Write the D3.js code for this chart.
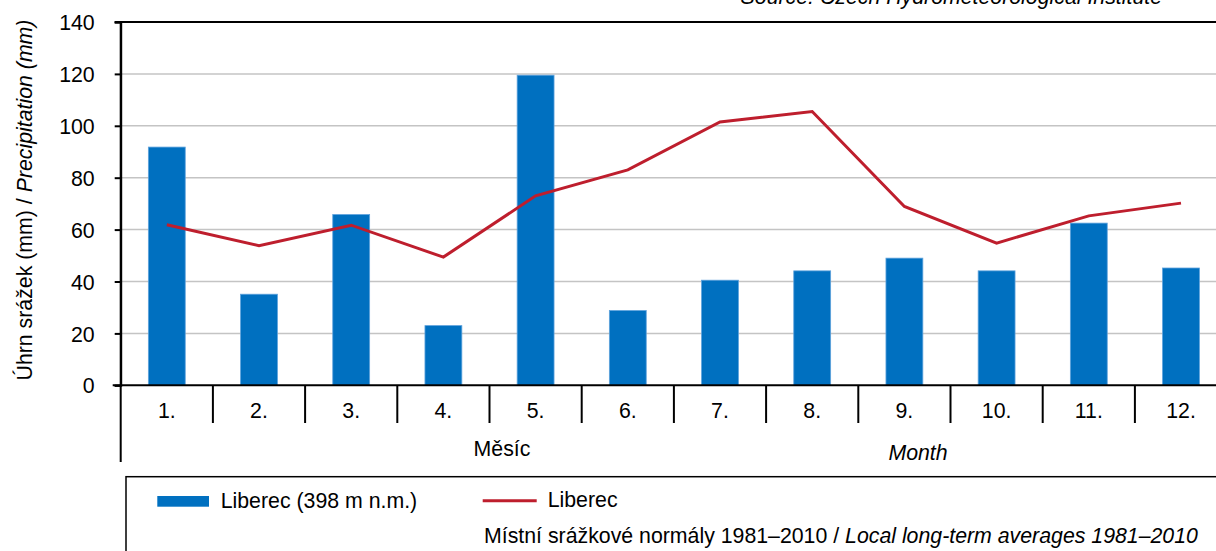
<!DOCTYPE html>
<html>
<head>
<meta charset="utf-8">
<script src="https://cdn.jsdelivr.net/npm/d3@7"></script>
<style>
  html, body { margin: 0; padding: 0; background: #fff; overflow: hidden; }
  svg { display: block; }
  text { font-family: "Liberation Sans", Arial, Helvetica, sans-serif; fill: #000; }
</style>
</head>
<body>
<svg id="chart" width="1216" height="551"></svg>
<script>
const months = ["1.", "2.", "3.", "4.", "5.", "6.", "7.", "8.", "9.", "10.", "11.", "12."];
const precip = [91.8, 35.1, 65.8, 23.0, 119.5, 28.8, 40.5, 44.1, 49.0, 44.1, 62.5, 45.2];
const normals = [61.9, 53.8, 61.7, 49.4, 73.0, 83.0, 101.5, 105.5, 68.9, 54.8, 65.3, 70.2];
const yTicks = [0, 20, 40, 60, 80, 100, 120, 140];

(function () {
const svg = d3.select("#chart");
const left = 120.7, step = 92.2;
const right = left + step * months.length;
const plotTop = 22, plotBottom = 385.3;
const FS = 21.3;

const x = d3.scaleBand().domain(months).range([left, right]).paddingInner(0.6).paddingOuter(0.3);
const xb = d3.scaleBand().domain(months).range([left, right]).padding(0);
const y = d3.scaleLinear().domain([0, 140]).range([plotBottom, plotTop]);

// source (cut off at top, as in the reference)
svg.append("text").attr("x", 1162).attr("y", 4).attr("text-anchor", "end")
  .attr("font-size", FS).attr("font-style", "italic")
  .text("Source: Czech Hydrometeorological Institute");

// gridlines
svg.append("g").selectAll("line").data(yTicks.filter(d => d > 0 && d < 140)).join("line")
  .attr("x1", left).attr("x2", 1216).attr("y1", d => y(d)).attr("y2", d => y(d))
  .attr("stroke", "#c4c4c4").attr("stroke-width", 1.5);

// top border
svg.append("line").attr("x1", left - 6).attr("x2", 1216).attr("y1", y(140)).attr("y2", y(140))
  .attr("stroke", "#000").attr("stroke-width", 2);

// y axis
const yAxis = d3.axisLeft(y).tickValues(yTicks).tickSize(6).tickPadding(20).tickFormat(d3.format("d"));
const gy = svg.append("g").attr("transform", `translate(${left},0)`).call(yAxis);
gy.select(".domain").attr("stroke", "#000").attr("stroke-width", 2);
gy.selectAll(".tick line").attr("stroke", "#000").attr("stroke-width", 2);
gy.selectAll(".tick text").attr("font-size", FS).attr("font-family", "Liberation Sans, Arial, sans-serif")
  .attr("dy", "0.36em").attr("fill", "#000");

// bars
svg.append("g").selectAll("rect").data(months).join("rect")
  .attr("x", d => x(d)).attr("width", x.bandwidth())
  .attr("y", (d, i) => y(precip[i])).attr("height", (d, i) => y(0) - y(precip[i]))
  .attr("fill", "#0070c0").attr("stroke", "#5ea2dc").attr("stroke-width", 0.8);

// x axis baseline
svg.append("line").attr("x1", left - 8).attr("x2", 1216).attr("y1", plotBottom).attr("y2", plotBottom)
  .attr("stroke", "#000").attr("stroke-width", 2);

// category separators
svg.append("g").selectAll("line").data(months.slice(1)).join("line")
  .attr("x1", d => xb(d)).attr("x2", d => xb(d)).attr("y1", plotBottom).attr("y2", 423)
  .attr("stroke", "#000").attr("stroke-width", 2);
svg.append("line").attr("x1", left).attr("x2", left).attr("y1", plotTop).attr("y2", 462)
  .attr("stroke", "#000").attr("stroke-width", 2);

// month labels
svg.append("g").selectAll("text").data(months).join("text")
  .attr("x", d => xb(d) + xb.bandwidth() / 2).attr("y", 418)
  .attr("text-anchor", "middle").attr("font-size", FS).text(d => d);

// line
const line = d3.line().x((d, i) => x(months[i]) + x.bandwidth() / 2).y(d => y(d));
svg.append("path").datum(normals).attr("d", line)
  .attr("fill", "none").attr("stroke", "#be1e2d").attr("stroke-width", 3).attr("stroke-linejoin", "miter");

// axis titles
svg.append("text").attr("x", 502).attr("y", 456).attr("text-anchor", "middle")
  .attr("font-size", FS).text("Měsíc");
svg.append("text").attr("x", 918).attr("y", 460).attr("text-anchor", "middle")
  .attr("font-size", FS).attr("font-style", "italic").text("Month");

const yl = svg.append("text").attr("transform", "translate(32,200) rotate(-90)")
  .attr("text-anchor", "middle").attr("font-size", FS);
yl.append("tspan").text("Úhrn srážek (mm) / ");
yl.append("tspan").attr("font-style", "italic").text("Precipitation (mm)");

// legend
svg.append("rect").attr("x", 126).attr("y", 476.7).attr("width", 1200).attr("height", 200)
  .attr("fill", "none").attr("stroke", "#000").attr("stroke-width", 1.5);
svg.append("rect").attr("x", 157.3).attr("y", 496).attr("width", 51.7).attr("height", 10.7).attr("fill", "#0070c0");
svg.append("text").attr("x", 220.7).attr("y", 508).attr("font-size", FS).text("Liberec (398 m n.m.)");
svg.append("line").attr("x1", 482.7).attr("x2", 536.7).attr("y1", 500.7).attr("y2", 500.7)
  .attr("stroke", "#be1e2d").attr("stroke-width", 3);
svg.append("text").attr("x", 547.7).attr("y", 507).attr("font-size", FS).text("Liberec");
const lt = svg.append("text").attr("x", 484).attr("y", 543).attr("font-size", FS);
lt.append("tspan").text("Místní srážkové normály 1981–2010 / ");
lt.append("tspan").attr("font-style", "italic").text("Local long-term averages 1981–2010");
})();
</script>
</body>
</html>
